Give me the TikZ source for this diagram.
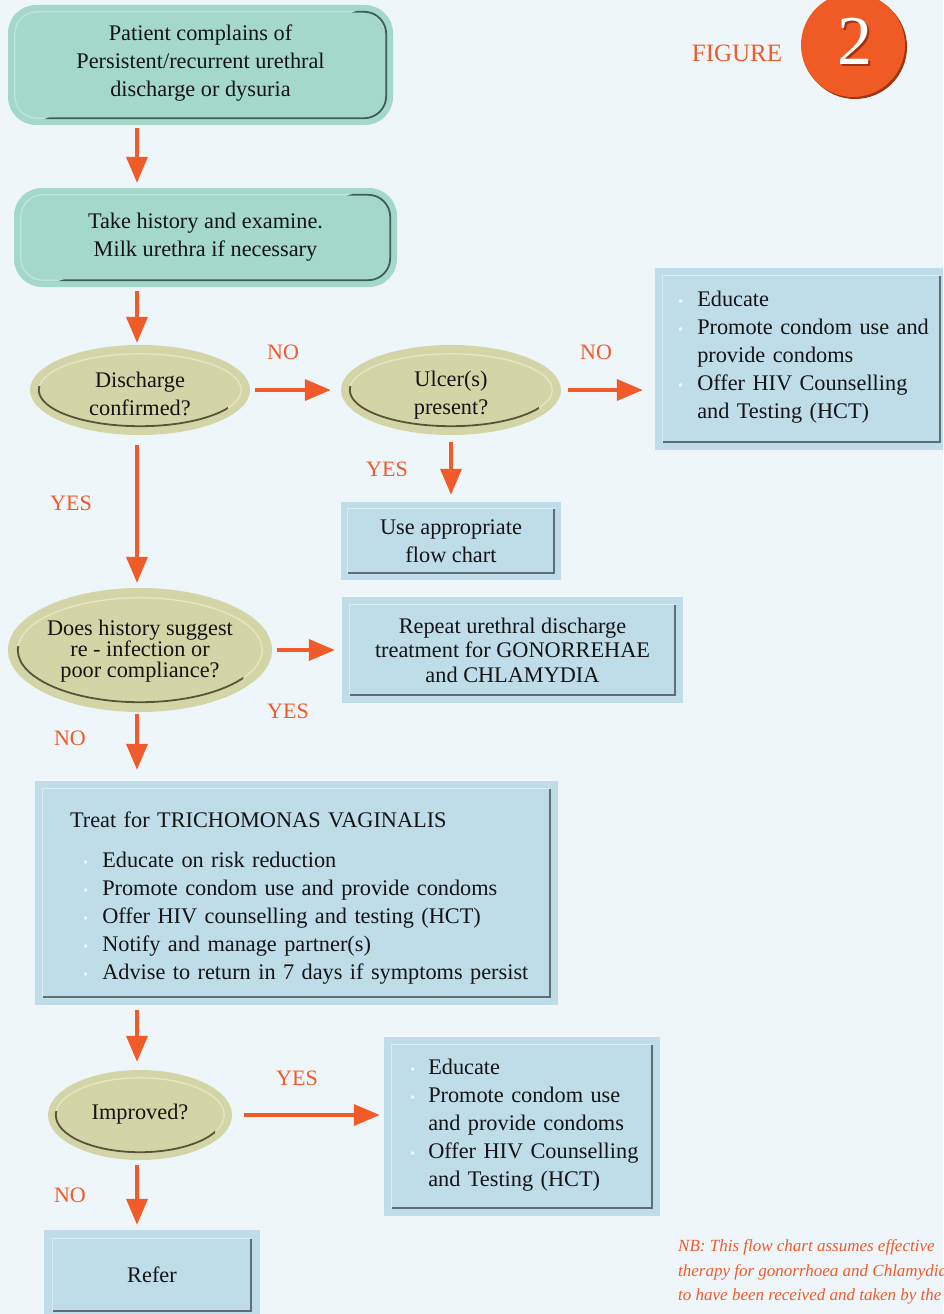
\documentclass[tikz,border=0pt]{standalone}
\usepackage{fontspec}
\setmainfont{Liberation Serif}
\usetikzlibrary{shapes.geometric,arrows.meta,calc}
\definecolor{bgc}{HTML}{EEF6FA}
\definecolor{tealc}{HTML}{A4D8CA}
\definecolor{olivec}{HTML}{D3D5A6}
\definecolor{bluec}{HTML}{BEDDE8}
\definecolor{orc}{HTML}{F15A29}
\definecolor{txtc}{HTML}{141414}
\definecolor{bulc}{HTML}{EEF6FA}
\definecolor{dkedge}{HTML}{5E6E74}
\definecolor{ltedge}{HTML}{D8ECF3}
\definecolor{tdk}{HTML}{3F5F57}
\definecolor{tlt}{HTML}{BFE6DB}
\definecolor{odk}{HTML}{55553A}
\definecolor{olt}{HTML}{E4E6C6}
\definecolor{figc}{HTML}{F05A24}
\definecolor{figdk}{HTML}{9C3412}
\newcommand\bodyfont{\fontsize{22.3}{28}\selectfont}
\newcommand\bul{{\color{bulc}\fontsize{15}{15}\selectfont\textbullet}}
\newcommand\bevelrect[2]{%
  \draw[edgelight] ($(#1.south west)+(#2,-#2)$) |- ($(#1.north east)+(-#2,#2)$);
  \draw[edgedark] ($(#1.south west)+(#2,-#2)$) -| ($(#1.north east)+(-#2,#2)$);}
\newcommand\bevelteal[3]{%
  \draw[draw=tlt, line width=1.3pt, rounded corners=#3] ($(#1.south west)+(#2,-#2)$) rectangle ($(#1.north east)+(-#2,#2)$);
  \begin{scope}
    \clip ($(#1.south west)+(-10,10)$) -- ($(#1.south east)+(10,10)$) -- ($(#1.north east)+(10,-10)$) -- cycle;
    \draw[draw=tdk, line width=1.8pt, rounded corners=#3] ($(#1.south west)+(#2,-#2)$) rectangle ($(#1.north east)+(-#2,#2)$);
  \end{scope}}
\newcommand\bevelell[2]{%
  \draw[draw=olt, line width=1.3pt] let \p1=(#1.center),\p2=(#1.east),\p3=(#1.north) in (\p1) ellipse ({\x2-\x1-#2} and {\y3-\y1-#2});
  \begin{scope}
    \clip ($(#1.west)+(-10,-4)$) rectangle ($(#1.south east)+(10,10)$);
    \draw[draw=odk, line width=1.8pt] let \p1=(#1.center),\p2=(#1.east),\p3=(#1.north) in (\p1) ellipse ({\x2-\x1-#2} and {\y3-\y1-#2});
  \end{scope}}
\tikzset{
  every node/.style={text=txtc, font=\bodyfont, inner sep=0pt},
  tealbox/.style={rectangle, rounded corners=28pt, fill=tealc, align=center},
  olive/.style={ellipse, fill=olivec},
  etext/.style={align=center},
  bluebox/.style={rectangle, fill=bluec},
  lbl/.style={text=orc, font=\fontsize{22}{22}\selectfont},
  arr/.style={draw=orc, line width=3.6pt, -{Triangle[length=26pt,width=21pt]}},
  edgedark/.style={draw=dkedge, line width=1.6pt},
  edgelight/.style={draw=ltedge, line width=1.2pt},
}
\begin{document}
\begin{tikzpicture}[x=1pt,y=-1pt]
\useasboundingbox (0,0) rectangle (943,1314);
\clip (0,0) rectangle (943,1314);
\fill[bgc] (0,0) rectangle (943,1314);
\coordinate (cx) at (137,0);

% badge
\node[circle, fill=figdk, minimum size=104pt] (badgesh) at (855,47) {};
\node[circle, fill=figc, minimum size=104pt] (badge) at (853,45) {};
\node[text=figdk, font=\fontsize{70}{70}\selectfont] (twosh) at (857,43) {2};
\node[text=white, font=\fontsize{70}{70}\selectfont] (two) at (855,41) {2};
\node[text=orc, font=\fontsize{25}{25}\selectfont] (figlbl) at (737,53) {FIGURE};

% teal boxes
\node[tealbox, minimum width=385pt, minimum height=120pt] (start) at (200.5,65)
  {\raisebox{2pt}[\height][\depth]{\begin{tabular}{@{}c@{}}Patient complains of\\Persistent/recurrent urethral\\discharge or dysuria\end{tabular}}};
\bevelteal{start}{7}{22pt}
\node[tealbox, minimum width=383pt, minimum height=99pt] (exam) at (205.5,237.5)
  {Take history and examine.\\Milk urethra if necessary};
\bevelteal{exam}{7}{22pt}

% ellipses
\node[olive, minimum width=220pt, minimum height=90pt] (disc) at (140,390) {};
\bevelell{disc}{9}
\node[etext] (disct) at (140,394) {Discharge\\confirmed?};
\node[olive, minimum width=220pt, minimum height=90pt] (ulcer) at (451,390) {};
\bevelell{ulcer}{9}
\node[etext] (ulcert) at (451,395) {Ulcer(s)\\present?};
\node[olive, minimum width=264pt, minimum height=124pt] (hist) at (140,650) {};
\bevelell{hist}{10}
\node[etext, font=\fontsize{22.3}{21}\selectfont] (histt) at (140,651) {Does history suggest\\re - infection or\\poor compliance?};
\node[olive, minimum width=184pt, minimum height=90pt] (impr) at (140,1115) {};
\bevelell{impr}{8}
\node[etext] (imprt) at (140,1114) {Improved?};

% blue boxes
\node[bluebox, minimum height=182pt, text width=247pt, inner xsep=23pt, align=left] (edu1) at (801.5,359)
  {\raisebox{2pt}[\height][\depth]{\begin{tabular}{@{}l@{\hspace{14pt}}l@{}}
   \bul & Educate\\
   \bul & Promote condom use and\\
        & provide condoms\\
   \bul & Offer HIV Counselling\\
        & and Testing (HCT)
   \end{tabular}}};
\bevelrect{edu1}{8}
\node[bluebox, minimum width=220pt, minimum height=78pt, align=center] (flow) at (451,541)
  {Use appropriate\\flow chart};
\bevelrect{flow}{7}
\node[bluebox, minimum width=341pt, minimum height=106pt, align=center, font=\fontsize{22.3}{24.5}\selectfont] (rep) at (512.5,650)
  {Repeat urethral discharge\\treatment for GONORREHAE\\and CHLAMYDIA};
\bevelrect{rep}{8}
\node[bluebox, minimum height=224pt, text width=453pt, inner xsep=35pt, align=left] (trich) at (296.5,893)
  {\raisebox{-5pt}[\height][\depth]{\begin{tabular}{@{\hspace{13pt}}l@{\hspace{14pt}}l@{}}
   \multicolumn{2}{@{}l@{}}{Treat for TRICHOMONAS VAGINALIS}\\[12pt]
   \bul & Educate on risk reduction\\
   \bul & Promote condom use and provide condoms\\
   \bul & Offer HIV counselling and testing (HCT)\\
   \bul & Notify and manage partner(s)\\
   \bul & Advise to return in 7 days if symptoms persist
   \end{tabular}}};
\bevelrect{trich}{8}
\node[bluebox, minimum height=179pt, text width=224pt, inner xsep=26pt, align=left] (edu2) at (522,1126.5)
  {\raisebox{2pt}[\height][\depth]{\begin{tabular}{@{}l@{\hspace{13pt}}l@{}}
   \bul & Educate\\
   \bul & Promote condom use\\
        & and provide condoms\\
   \bul & Offer HIV Counselling\\
        & and Testing (HCT)
   \end{tabular}}};
\bevelrect{edu2}{8}
\node[bluebox, minimum width=216pt, minimum height=90pt, align=center] (refer) at (152,1275) {Refer};
\bevelrect{refer}{9}

% connectors
\draw[arr, shorten <=3pt, shorten >=5pt] (start.south -| cx) -- (exam.north -| cx);
\draw[arr, shorten <=4pt, shorten >=2pt] (exam.south -| cx) -- (disc.north -| cx);
\draw[arr, shorten <=10pt, shorten >=5pt] (disc.south -| cx) -- (hist.north -| cx);
\draw[arr, shorten <=5pt, shorten >=10pt] (disc.east) -- (ulcer.west);
\draw[arr, shorten <=7pt, shorten >=12pt] (ulcer.east) -- (ulcer.east -| edu1.west);
\draw[arr, shorten <=7pt, shorten >=7pt] (ulcer.south) -- (flow.north);
\draw[arr, shorten <=5pt, shorten >=7pt] (hist.east) -- (hist.east -| rep.west);
\draw[arr, shorten <=2pt, shorten >=11pt] (hist.south -| cx) -- (trich.north -| cx);
\draw[arr, shorten <=5pt, shorten >=8pt] (trich.south -| cx) -- (impr.north -| cx);
\draw[arr, shorten <=12pt, shorten >=4pt] (impr.east) -- (impr.east -| edu2.west);
\draw[arr, shorten <=5pt, shorten >=5pt] (impr.south -| cx) -- (refer.north -| cx);

% labels
\node[lbl] (l1) at (283,352) {NO};
\node[lbl] (l2) at (596,352) {NO};
\node[lbl] (l3) at (387,469) {YES};
\node[lbl] (l4) at (71,503) {YES};
\node[lbl] (l5) at (288,711) {YES};
\node[lbl] (l6) at (70,738) {NO};
\node[lbl] (l7) at (297,1078) {YES};
\node[lbl] (l8) at (70,1195) {NO};

% note
\node[anchor=west, align=left, text=orc, font=\fontsize{17}{24.5}\selectfont\itshape] (nb) at (678,1272)
  {NB: This flow chart assumes effective\\therapy for gonorrhoea and Chlamydia\\to have been received and taken by the};
\end{tikzpicture}
\end{document}
